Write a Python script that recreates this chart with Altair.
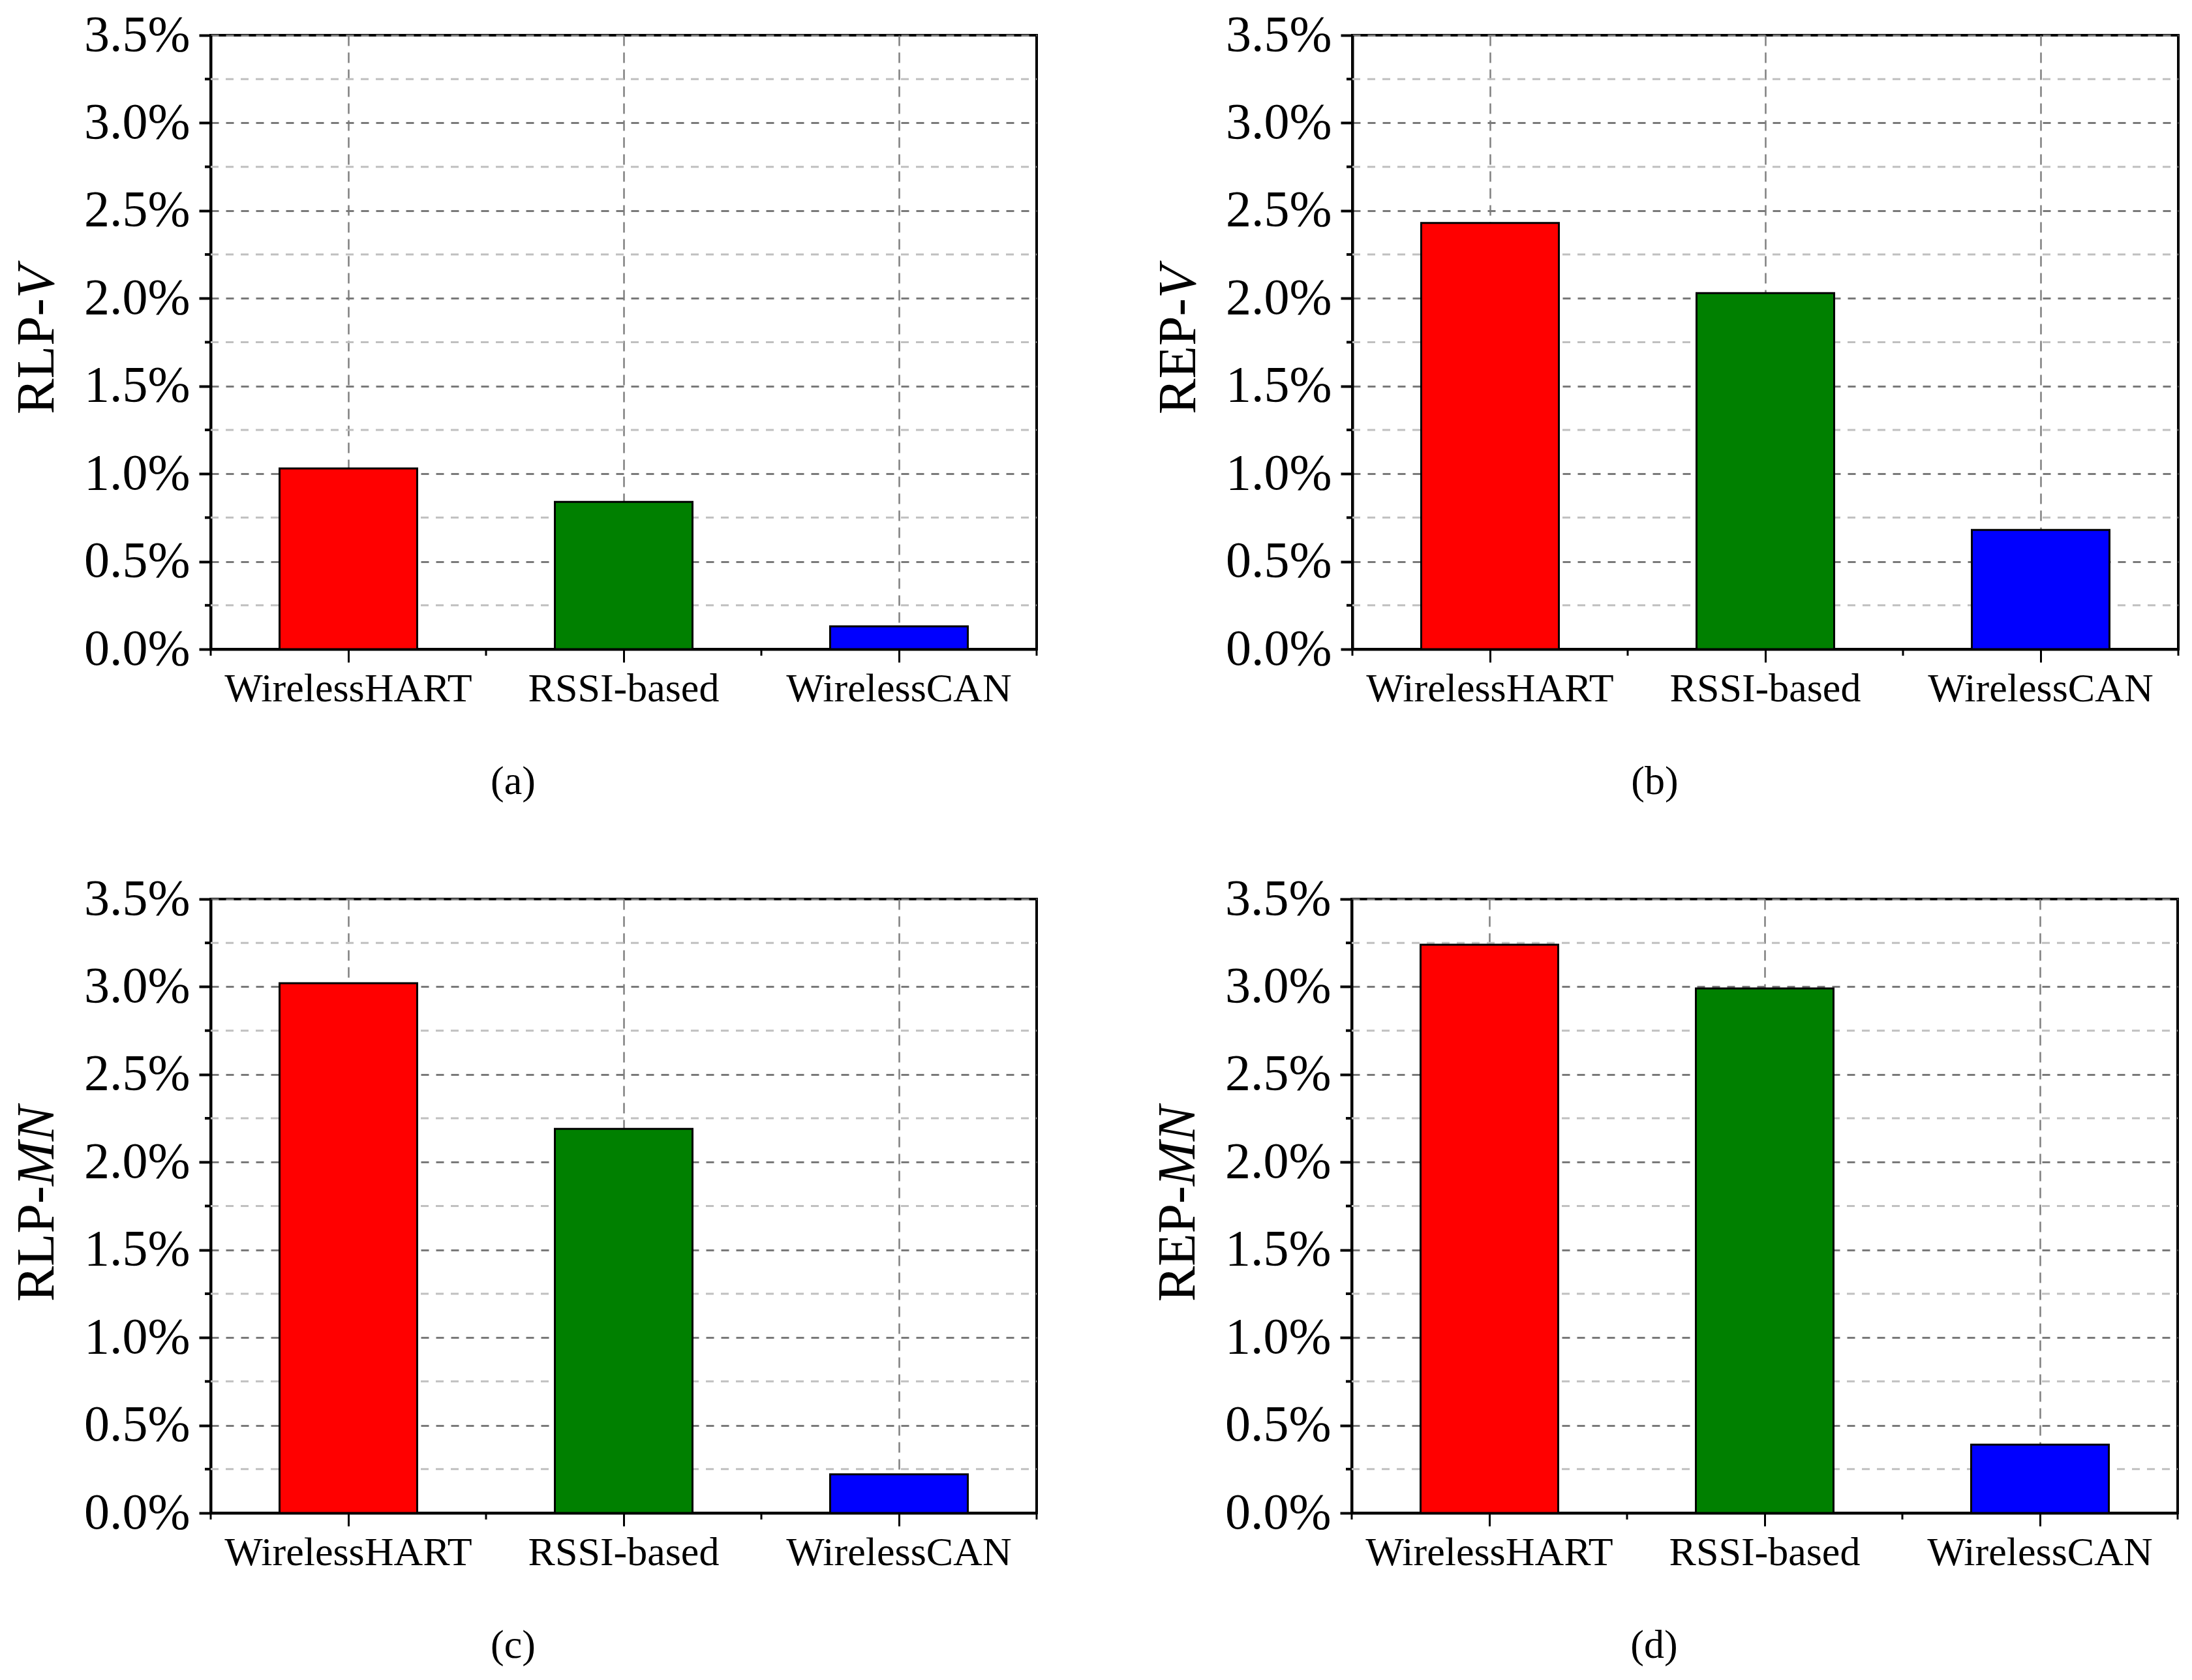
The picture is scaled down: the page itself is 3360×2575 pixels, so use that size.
import altair as alt
import pandas as pd

# ---- data ----
methods = ["WirelessHART", "RSSI-based", "WirelessCAN"]
colors = ["#FF0000", "#008000", "#0000FF"]

rlp_v = [0.0103, 0.0084, 0.0013]
rep_v = [0.0243, 0.0203, 0.0068]
rlp_mn = [0.0302, 0.0219, 0.0022]
rep_mn = [0.0324, 0.0299, 0.0039]

title_main = ["RLP-", "REP-", "RLP-", "REP-"]
title_ital = ["V", "V", "MN", "MN"]
captions = ["(a)", "(b)", "(c)", "(d)"]

major_vals = [0.0, 0.005, 0.01, 0.015, 0.02, 0.025, 0.03, 0.035]
minor_vals = [0.0025, 0.0075, 0.0125, 0.0175, 0.0225, 0.0275, 0.0325]
band_edges = [0, 1, 2, 3]

# ---- layout constants ----
W = 1266
H = 941
FONT = "Liberation Serif"
TITLE_SIZE = 82
TITLE_X = -266
TITLE_CENTER = 467
W_MAIN = 2.167 * TITLE_SIZE
W_ITAL = {"V": 0.611 * TITLE_SIZE, "MN": 1.5 * TITLE_SIZE}


def panel(values, tmain, tital, caption):
    df = pd.DataFrame({"method": methods, "v": values})
    yscale = alt.Scale(domain=[0, 0.035], nice=False, zero=True)
    yaxis = alt.Axis(
        values=major_vals, format=".1%", title=None,
        labelFont=FONT, labelFontSize=78, labelColor="black", labelPadding=14,
        tickSize=18, tickWidth=4, tickColor="black",
        domainColor="black", domainWidth=4,
        grid=True, gridColor="#7a7a7a", gridWidth=3, gridDash=[12, 11],
    )
    yenc = alt.Y("v:Q", scale=yscale, axis=yaxis)

    minor_df = pd.DataFrame({"v": minor_vals})
    minor_grid = alt.Chart(minor_df).mark_rule(
        color="#c0c0c0", strokeWidth=3, strokeDash=[12, 11]
    ).encode(y=yenc, x=alt.value(0), x2=alt.value(W))

    bars = alt.Chart(df).mark_bar(stroke="black", strokeWidth=3).encode(
        x=alt.X(
            "method:N", sort=methods,
            scale=alt.Scale(domain=methods, paddingInner=0.5, paddingOuter=0.25),
            axis=alt.Axis(
                labelAngle=0, labelFont=FONT, labelFontSize=62, labelColor="black",
                labelPadding=10, labelLimit=0, tickSize=20, tickWidth=3,
                tickColor="black", domainColor="black", domainWidth=4,
                bandPosition=0.5,
                grid=True, gridColor="#808080", gridWidth=2.5, gridDash=[16, 10],
                title=caption, titleFont=FONT, titleFontSize=62,
                titleFontWeight="normal", titleColor="black",
                titleX=463, titleY=202, titleAlign="center", titleBaseline="middle",
            ),
        ),
        y=yenc,
        color=alt.Color("method:N", scale=alt.Scale(domain=methods, range=colors), legend=None),
    )

    minor_ticks = alt.Chart(minor_df).mark_rule(
        color="black", strokeWidth=4
    ).encode(y=yenc, x=alt.value(-9), x2=alt.value(0))

    edge_df = pd.DataFrame({"b": band_edges})
    x_minor = alt.Chart(edge_df).mark_rule(color="black", strokeWidth=3).encode(
        x=alt.X("b:Q", scale=alt.Scale(domain=[0, 3], nice=False), axis=None),
        y=alt.value(H), y2=alt.value(H + 10),
    )

    junction = TITLE_CENTER + (W_MAIN + W_ITAL[tital]) / 2 - W_MAIN
    t1 = alt.Chart(pd.DataFrame({"t": [tmain]})).mark_text(
        angle=270, align="right", baseline="middle", font=FONT,
        fontSize=TITLE_SIZE, color="black",
    ).encode(text="t:N", x=alt.value(TITLE_X), y=alt.value(junction))
    t2 = alt.Chart(pd.DataFrame({"t": [tital]})).mark_text(
        angle=270, align="left", baseline="middle", font=FONT,
        fontSize=TITLE_SIZE, fontStyle="italic", color="black",
    ).encode(text="t:N", x=alt.value(TITLE_X), y=alt.value(junction))

    return alt.layer(minor_grid, bars, minor_ticks, x_minor, t1, t2).resolve_scale(
        x="independent"
    ).properties(width=W, height=H)


pa = panel(rlp_v, title_main[0], title_ital[0], captions[0])
pb = panel(rep_v, title_main[1], title_ital[1], captions[1])
pc = panel(rlp_mn, title_main[2], title_ital[2], captions[2])
pd_ = panel(rep_mn, title_main[3], title_ital[3], captions[3])

chart = alt.vconcat(
    alt.hconcat(pa, pb, spacing=170),
    alt.hconcat(pc, pd_, spacing=170),
    spacing=107,
).configure(background="white").configure_view(stroke="black", strokeWidth=4)

chart.save("out.html", embed_options={"renderer": "svg", "actions": False})
